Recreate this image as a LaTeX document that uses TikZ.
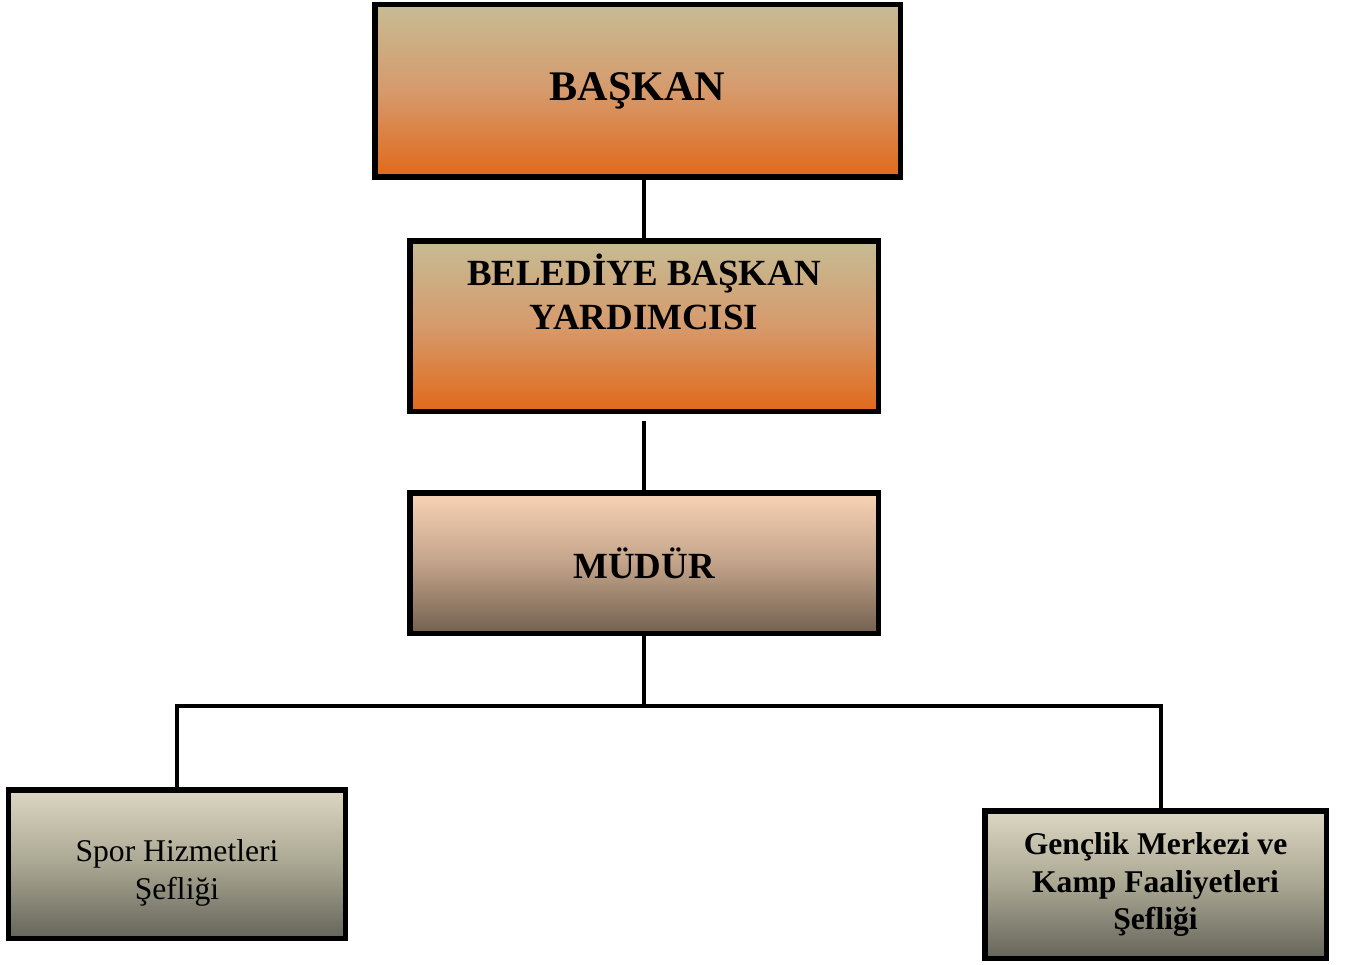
\documentclass[tikz,border=0pt]{standalone}
\usepackage{fontspec}
\setmainfont{Liberation Serif}
\usepackage{xcolor}
\usepackage{tikz}
\usetikzlibrary{positioning}
\usetikzlibrary{calc}
\definecolor{sandtop}{HTML}{C6BC94}
\definecolor{sandmid}{HTML}{D69A6C}
\definecolor{orangebottom}{HTML}{E1691A}
\definecolor{peachtop}{HTML}{F9D3B5}
\definecolor{peachmid}{HTML}{C2A389}
\definecolor{brownbottom}{HTML}{73604F}
\definecolor{greytop}{HTML}{DCD7C2}
\definecolor{greymid}{HTML}{A9A692}
\definecolor{greybottom}{HTML}{66655A}

\begin{document}
\begin{tikzpicture}[line width=0.09cm]
        \useasboundingbox (0,0) rectangle (26.94,-19.28);
        \tikzset{orgbox/.style={draw, rectangle, line width=0.11cm, align=center, inner sep=0mm},
            orangebox/.style={orgbox, top color=sandtop, bottom color=orangebottom, middle color=sandmid},
            brownbox/.style={orgbox, top color=peachtop, bottom color=brownbottom, middle color=peachmid},
            greybox/.style={orgbox, top color=greytop, bottom color=greybottom, middle color=greymid}}
        \node[orangebox, minimum width=10.51cm, minimum height=3.45cm,
            font=\fontsize{24}{28}\selectfont\bfseries] (baskan) at (12.75,-1.81) {BAŞKAN};
        \node[orangebox, minimum width=9.37cm, minimum height=3.41cm] (yardimci) at (12.88,-6.52) {};
        \node[below=0.16cm of yardimci.north, anchor=north, align=center,
            font=\fontsize{21}{25}\selectfont\bfseries] (yardimcitext) {BELEDİYE BAŞKAN\\YARDIMCISI};
        \node[brownbox, minimum width=9.37cm, minimum height=2.81cm,
            font=\fontsize{21}{25}\selectfont\bfseries] (mudur) at (12.88,-11.26) {MÜDÜR};
        \node[greybox, minimum width=6.73cm, minimum height=2.97cm] (spor) at (3.54,-17.28) {};
        \node[align=center, yshift=-0.18cm, font=\fontsize{18}{21.5}\selectfont] (sportext) at (spor.center) {Spor Hizmetleri\\Şefliği};
        \node[greybox, minimum width=6.83cm, minimum height=2.95cm,
            font=\fontsize{18}{21.5}\selectfont\bfseries] (genclik) at (23.11,-17.69) {Gençlik Merkezi ve\\Kamp Faaliyetleri\\Şefliği};
        \coordinate (bus) at (12.88,-14.12);
        % connectors
        \draw (yardimci.north) -- (yardimci.north |- baskan.south);
        \draw ($(yardimci.south)+(0,-0.14)$) -- (mudur.north);
        \draw (mudur.south) -- (bus);
        \draw (spor.north) |- (bus) -| ([xshift=0.11cm]genclik.north);
    \end{tikzpicture}
\end{document}
